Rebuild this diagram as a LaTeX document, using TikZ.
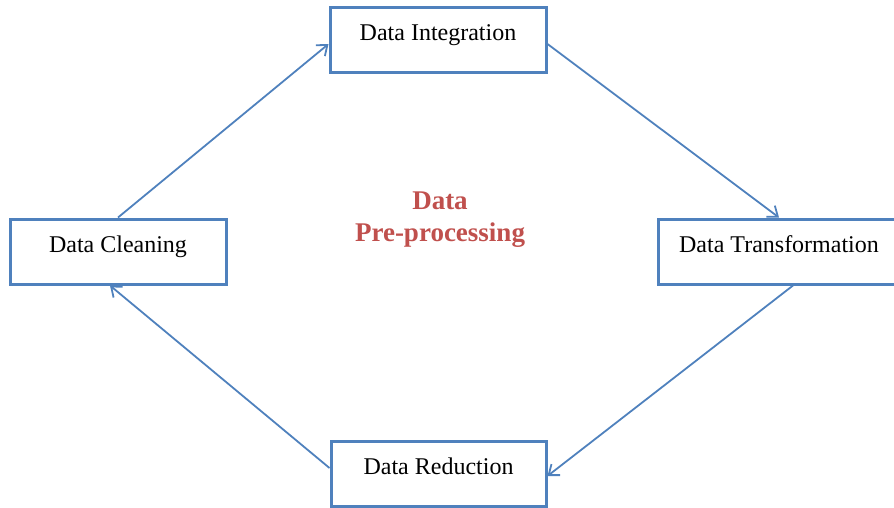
\documentclass[tikz,border=0pt]{standalone}
\usepackage{fontspec}
\setmainfont{Liberation Serif}
\usetikzlibrary{arrows.meta}
\definecolor{boxblue}{RGB}{79,129,189}
\definecolor{titlered}{RGB}{192,80,77}
\tikzset{
	stage/.style={draw=boxblue, line width=3pt, minimum height=65pt, inner sep=0pt,
		font=\fontsize{24}{28}\selectfont, text height=16pt, text depth=14pt},
	flow/.style={draw=boxblue, line width=1.8pt, -{Straight Barb[length=9pt,width=14pt]}}
}
\begin{document}
\begin{tikzpicture}[x=1pt,y=-1pt]
	\useasboundingbox (0,0) rectangle (894,507);
	\node[stage, minimum width=216pt] (integ) at (438,39.5) {Data Integration};
	\node[stage, minimum width=216pt] (clean) at (118,251.5) {Data Cleaning};
	\node[stage, minimum width=242pt] (trans) at (779,251.5) {Data Transformation};
	\node[stage, minimum width=215pt] (red) at (438.5,473.5) {Data Reduction};
	\node[font=\bfseries\fontsize{27}{32}\selectfont, text=titlered, align=center] (title) at (440,220) {Data\\Pre-processing};
	\draw[flow] (clean.north) -- ([yshift=-4.5pt]integ.west);
	\draw[flow] ([yshift=-4.5pt]integ.east) -- (trans.north);
	\draw[flow] ([xshift=14pt]trans.south) -- ([yshift=-2.5pt]red.east);
	\draw[flow] ([yshift=5.5pt]red.west) -- ([xshift=-8pt]clean.south);
\end{tikzpicture}
\end{document}
